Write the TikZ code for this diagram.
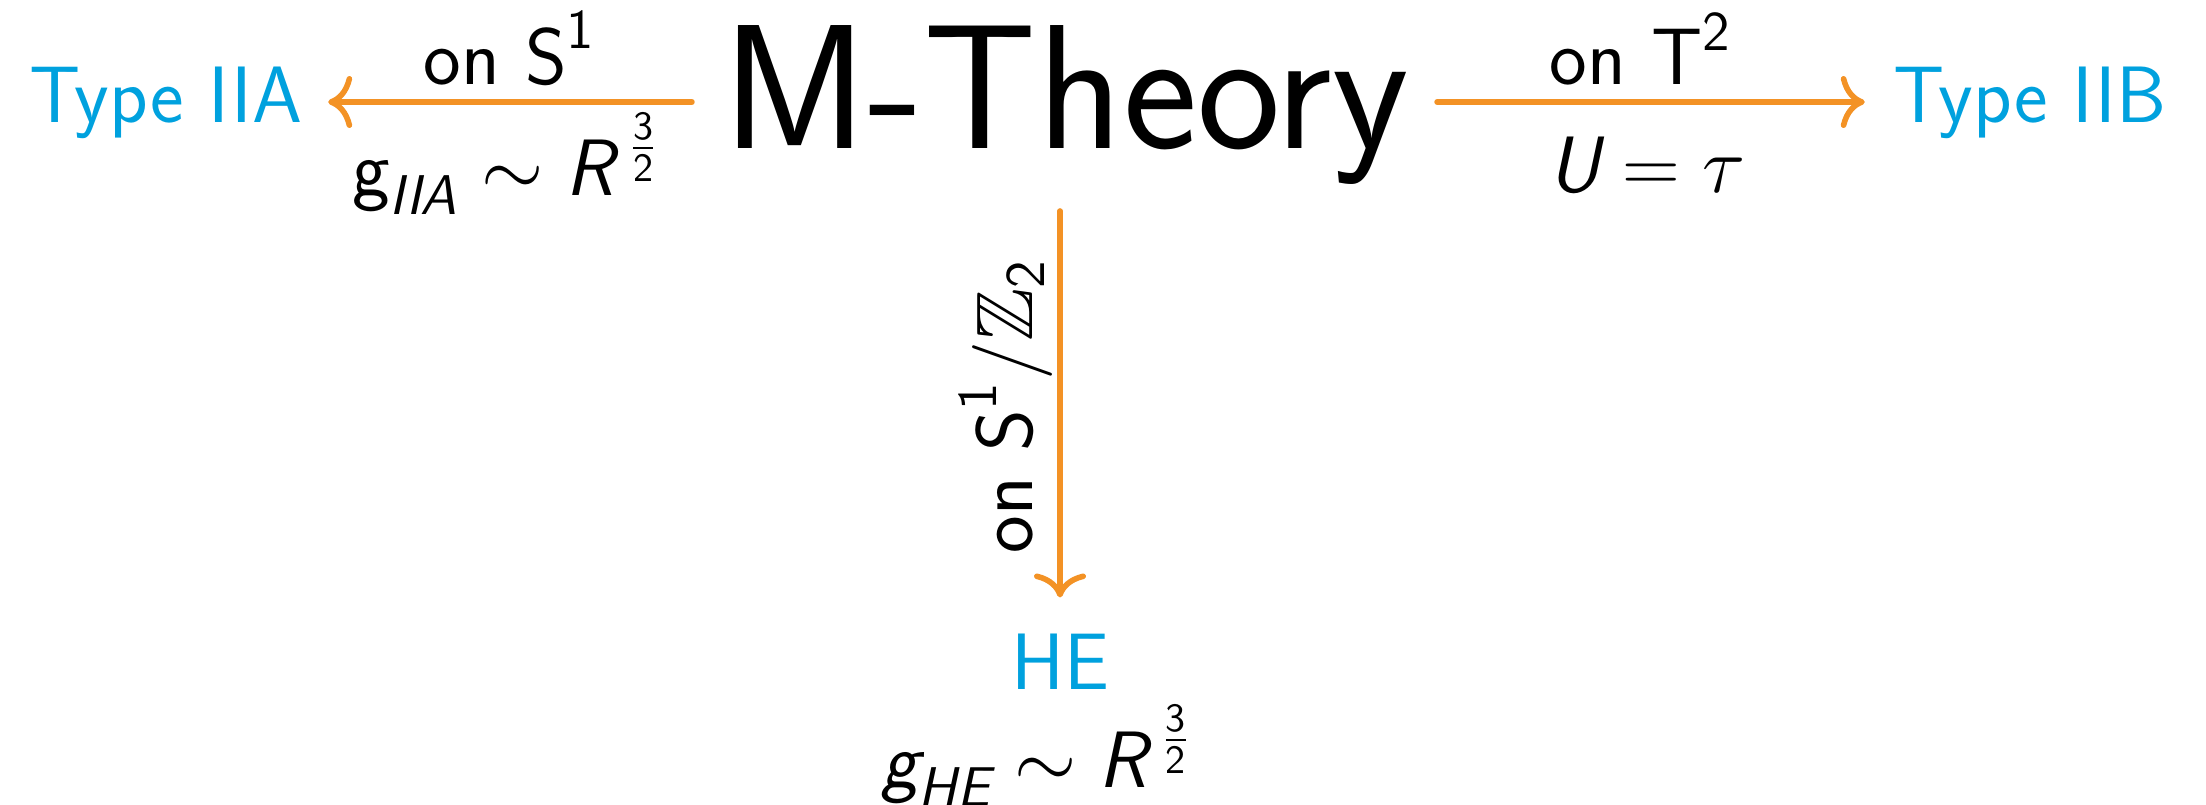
\RequirePackage{fix-cm}
\documentclass[tikz,border=0pt]{standalone}
\usepackage{amsmath,amssymb}
\usetikzlibrary{arrows.meta}
\definecolor{arrorange}{RGB}{243,146,37}
\definecolor{thblue}{RGB}{0,161,222}
\newcommand\si[1]{\textsf{\itshape #1}}
\newcommand\threehalf{\hspace{3.5pt}\raisebox{8.25pt}{$\scriptstyle\frac{\textsf{3}}{\textsf{2}}$}}
\begin{document}
\begin{tikzpicture}[x=0.25pt,y=-0.25pt,
  every node/.style={inner sep=0pt, outer sep=0pt, font=\sffamily\fontsize{20}{24}\selectfont},
  theory/.style={text=thblue, anchor=base},
  arr/.style={draw=arrorange, line width=1.4pt, line cap=round, -{To[length=6pt,width=13pt,round]}},
  lbl/.style={anchor=base}]
\useasboundingbox (0,0) rectangle (2206,804);
\node[anchor=base, font=\sffamily\fontsize{44.3}{50}\selectfont] (M) at (1066,148) {M-Theory};
\node[theory] (IIA) at (166,122) {Type IIA};
\node[theory] (IIB) at (2030,122) {Type IIB};
\node[theory] (HE) at (1060,689) {HE};
\coordinate (ay) at (0,102);
\draw[arr, shorten <=7.75pt, shorten >=6.5pt] (M.west |- ay) -- (IIA.east |- ay);
\draw[arr, shorten <=7pt, shorten >=7.25pt] (M.east |- ay) -- (IIB.west |- ay);
\draw[arr, shorten <=6.75pt, shorten >=9pt] (M.south -| HE.north) -- (HE.north);
\node[lbl] (l1) at (510,84) {on $\textsf{S}^{\textsf{1}}$};
\node[lbl] (l2) at (505,195) {$\textsf{g}_{\si{IIA}} \sim \si{R}\threehalf$};
\node[lbl] (l3) at (1641,84) {on $\textsf{T}^{\textsf{2}}$};
\node[lbl] (l4) at (1647,192) {$\si{U} = \tau$};
\node[lbl, rotate=90] (l5) at (1032,406) {on $\textsf{S}^{\textsf{1}}/\mathbb{Z}_{\textsf{2}}$};
\node[lbl] (l6) at (1036,787) {$\si{g}_{\si{HE}} \sim \si{R}\threehalf$};
\end{tikzpicture}
\end{document}
